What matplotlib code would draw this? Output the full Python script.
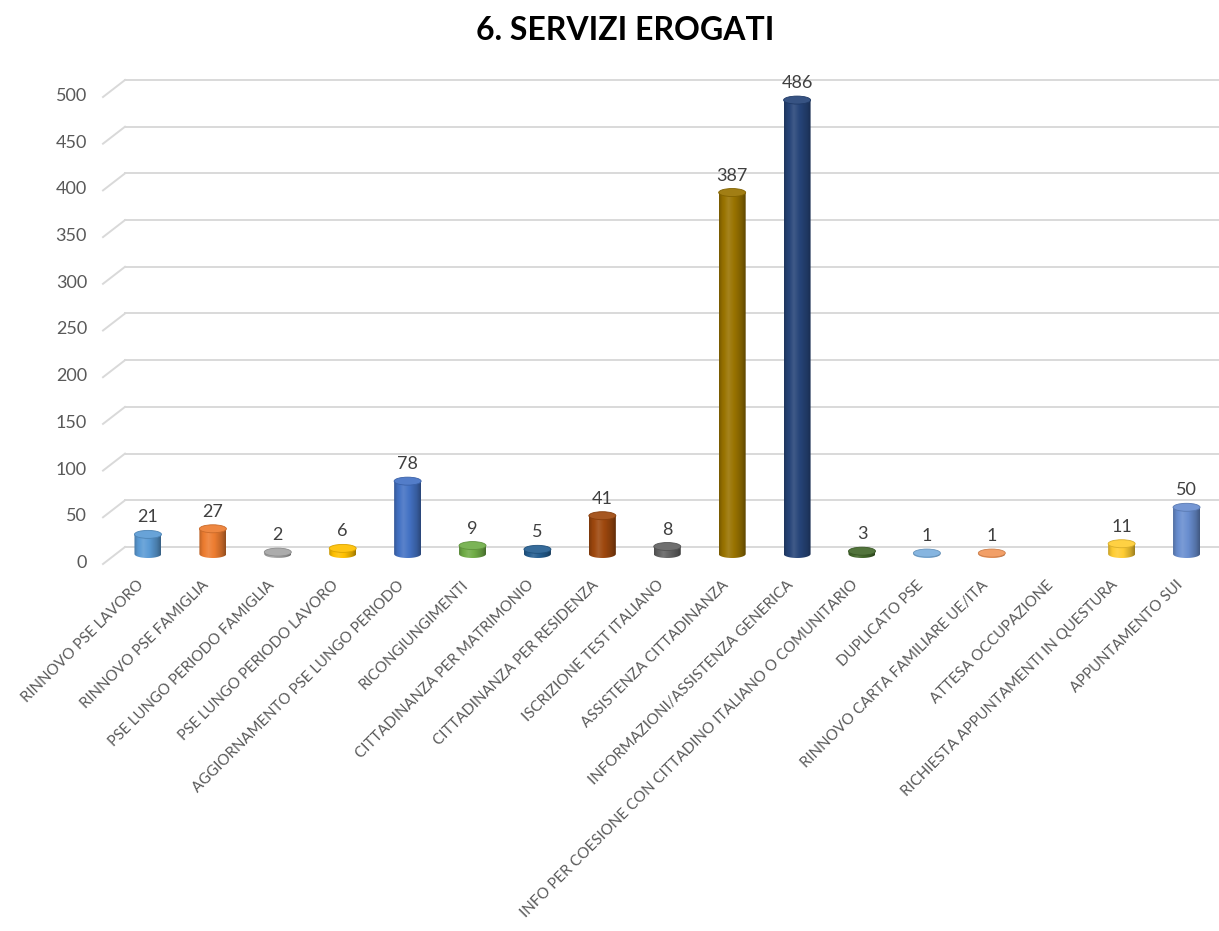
import numpy as np
import matplotlib
matplotlib.use("Agg")
import matplotlib.pyplot as plt
from matplotlib.patches import Ellipse, PathPatch
from matplotlib.path import Path
from matplotlib.transforms import ScaledTranslation
import matplotlib.colors as mcolors

plt.rcParams['font.family'] = ['Lato', 'DejaVu Sans']

title = "6. SERVIZI EROGATI"
categories = [
    "RINNOVO PSE LAVORO",
    "RINNOVO PSE FAMIGLIA",
    "PSE LUNGO PERIODO FAMIGLIA",
    "PSE LUNGO PERIODO LAVORO",
    "AGGIORNAMENTO PSE LUNGO PERIODO",
    "RICONGIUNGIMENTI",
    "CITTADINANZA PER MATRIMONIO",
    "CITTADINANZA PER RESIDENZA",
    "ISCRIZIONE TEST ITALIANO",
    "ASSISTENZA CITTADINANZA",
    "INFORMAZIONI/ASSISTENZA GENERICA",
    "INFO PER COESIONE CON CITTADINO ITALIANO O COMUNITARIO",
    "DUPLICATO PSE",
    "RINNOVO CARTA FAMILIARE UE/ITA",
    "ATTESA OCCUPAZIONE",
    "RICHIESTA APPUNTAMENTI IN QUESTURA",
    "APPUNTAMENTO SUI",
]
values = [21, 27, 2, 6, 78, 9, 5, 41, 8, 387, 486, 3, 1, 1, 0, 11, 50]
bar_colors = [
    "#5B9BD5", "#ED7D31", "#A5A5A5", "#FFC000", "#4472C4", "#70AD47",
    "#255E91", "#9E480E", "#636363", "#997300", "#264478", "#43682B",
    "#7CAFDD", "#F1975A", "#B7B7B7", "#FFCD33", "#698ED0",
]
yticks = list(range(0, 501, 50))

W, H = 1219, 931
fig = plt.figure(figsize=(W / 100, H / 100), dpi=100)
ax_left, ax_right, ax_top, ax_bot = 125, W, 80, 547
ax = fig.add_axes([ax_left / W, (H - ax_bot) / H, (ax_right - ax_left) / W, (ax_bot - ax_top) / H])
XMIN, XMAX = -0.354, 16.50
ax.set_xlim(XMIN, XMAX)
ax.set_ylim(0, 500)
ax.axis('off')

px_x = (ax_right - ax_left) / (XMAX - XMIN)
px_y = (ax_bot - ax_top) / 500.0

grid_col = "#D9D9D9"
side_dx = 22 / (ax_right - ax_left)
side_dy = 17 / px_y
for t in yticks:
    ax.plot([0, 1], [t, t], transform=ax.get_yaxis_transform(), color=grid_col, lw=1.4, zorder=0, clip_on=False)
    ax.plot([-side_dx, 0], [t - side_dy, t], transform=ax.get_yaxis_transform(), color=grid_col, lw=1.4, zorder=0, clip_on=False)
    ax.text(-38 / (ax_right - ax_left), t - 16 / px_y, str(t), transform=ax.get_yaxis_transform(),
            ha='right', va='center', fontsize=13, color="#595959")

bw = 27 / px_x
eh = 8 / px_y
base = -7 / px_y
xs = np.arange(len(values))


def shade(c, f):
    c = np.array(mcolors.to_rgb(c))
    if f >= 1:
        return np.clip(c + (1 - c) * (f - 1), 0, 1)
    return c * f


tt = np.linspace(0, 1, 64)
prof = np.interp(tt, [0, 0.12, 0.35, 0.6, 0.85, 1.0], [0.78, 0.95, 1.12, 0.98, 0.8, 0.62])

for x, v, c in zip(xs, values, bar_colors):
    if v <= 0:
        continue
    top = base + v
    x0, x1 = x - bw / 2, x + bw / 2
    th = np.linspace(np.pi, 2 * np.pi, 40)
    verts = [(x0, top), (x0, base)]
    verts += [(x + bw / 2 * np.cos(a), base + eh / 2 * np.sin(a)) for a in th]
    verts += [(x1, base), (x1, top), (x0, top)]
    codes = [Path.MOVETO] + [Path.LINETO] * (len(verts) - 2) + [Path.CLOSEPOLY]
    path = Path(verts, codes)
    patch = PathPatch(path, facecolor='none', edgecolor='none', zorder=2, clip_on=False)
    ax.add_patch(patch)
    grad = np.array([shade(c, f) for f in prof])[None, :, :]
    im = ax.imshow(grad, extent=(x0, x1, base - eh, top + eh), aspect='auto', zorder=2,
                   interpolation='bilinear')
    im.set_clip_path(patch)
    im.set_clip_box(fig.bbox)
    topc = shade(c, 1.08)
    ax.add_patch(Ellipse((x, top), bw, eh, facecolor=topc, edgecolor=shade(c, 0.85), lw=0.6,
                         zorder=3, clip_on=False))
    ax.text(x, top, str(v), transform=ax.transData + ScaledTranslation(0, 17 / 100, fig.dpi_scale_trans),
            ha='center', va='center', fontsize=13, color="#404040", zorder=4)

for x, lab in zip(xs, categories):
    ax.text(x, 0, lab, transform=ax.transData + ScaledTranslation(-11 / 100, -31 / 100, fig.dpi_scale_trans),
            rotation=45, ha='right', va='top', rotation_mode='anchor', fontsize=10.8, color="#595959")

ax.set_xlim(XMIN, XMAX)
ax.set_ylim(0, 500)

fig.text(625 / W, 1 - 30 / H, title, ha='center', va='center', fontsize=23, fontweight='bold', color="#000000")

fig.savefig("out.png", dpi=100, facecolor='white')
